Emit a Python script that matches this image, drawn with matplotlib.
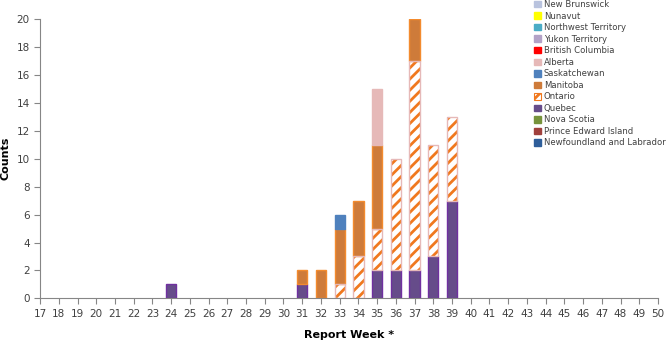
import matplotlib.pyplot as plt
import matplotlib.patches as patches
import numpy as np

weeks = list(range(17, 51))

# counts per province by report week (only weeks with cases listed)
case_weeks = [24, 31, 32, 33, 34, 35, 36, 37, 38, 39]
quebec = [1, 1, 0, 0, 0, 2, 2, 2, 3, 7]
ontario = [0, 0, 0, 1, 3, 3, 8, 15, 8, 6]
manitoba = [0, 1, 2, 4, 4, 6, 0, 3, 0, 0]
saskatchewan = [0, 0, 0, 1, 0, 0, 0, 0, 0, 0]
alberta = [0, 0, 0, 0, 0, 4, 0, 0, 0, 0]
zeros = [0] * len(case_weeks)

# bottom -> top stack order
series = [
    ('Newfoundland and Labrador', zeros, '#2E5E9A'),
    ('Prince Edward Island', zeros, '#A0403C'),
    ('Nova Scotia', zeros, '#77933C'),
    ('Quebec', quebec, '#664C8A'),
    ('Ontario', ontario, 'hatch'),
    ('Manitoba', manitoba, '#CE7B3A'),
    ('Saskatchewan', saskatchewan, '#4F81BD'),
    ('Alberta', alberta, '#E6B9B8'),
    ('British Columbia', zeros, '#FF0000'),
    ('Yukon Territory', zeros, '#B3A2C7'),
    ('Northwest Territory', zeros, '#4BACC6'),
    ('Nunavut', zeros, '#FFFF00'),
    ('New Brunswick', zeros, '#B9C3DE'),
]
edges = {'Quebec': '#7030A0', 'Manitoba': '#F38B2E'}

plt.rcParams['hatch.linewidth'] = 2.0
fig = plt.figure(figsize=(6.68, 3.43), dpi=100)
ax = fig.add_axes([0.06, 0.13, 0.925, 0.815])

x = np.array(case_weeks)
bottom = np.zeros(len(case_weeks))
handles = []
for name, vals, color in series:
    vals = np.array(vals, dtype=float)
    m = vals > 0  # skip empty segments so no stray edges
    if color == 'hatch':
        ax.bar(x[m], vals[m], width=0.55, bottom=bottom[m], facecolor='white',
               edgecolor='#F0781E', hatch='///', linewidth=0, zorder=2)
        ax.bar(x[m], vals[m], width=0.55, bottom=bottom[m], fill=False,
               edgecolor='#E6B9B8', linewidth=1, zorder=3)
        h = patches.Patch(facecolor='white', edgecolor='#F0781E', hatch='///', linewidth=0.8)
    else:
        ec = edges.get(name, color)
        ax.bar(x[m], vals[m], width=0.55, bottom=bottom[m], color=color,
               edgecolor=ec, linewidth=1, zorder=2)
        h = patches.Patch(facecolor=color, edgecolor=color)
    handles.append((name, h))
    bottom += vals

ax.set_xlim(17, 50)
ax.set_ylim(0, 20)
ax.set_xticks(weeks)
ax.set_yticks(range(0, 21, 2))
ax.tick_params(labelsize=7.5, colors='#404040', length=4)
ax.tick_params(axis='x', color='#868686')
ax.tick_params(axis='y', color='#868686')
for s in ['top', 'right']:
    ax.spines[s].set_visible(False)
for s in ['left', 'bottom']:
    ax.spines[s].set_color('#868686')

ax.set_xlabel('Report Week *', fontsize=8, fontweight='bold', labelpad=8)
ax.set_ylabel('Counts', fontsize=8, fontweight='bold', labelpad=4)

handles = handles[::-1]
leg = fig.legend([h for n, h in handles], [n for n, h in handles],
                 loc='upper left', bbox_to_anchor=(0.797, 1.005), frameon=False,
                 fontsize=6.1, handlelength=0.8, handleheight=0.8,
                 handletextpad=0.35, labelspacing=0.3, borderaxespad=0,
                 borderpad=0.2)
for t in leg.get_texts():
    t.set_color('#404040')

fig.savefig('out.png', dpi=100)
